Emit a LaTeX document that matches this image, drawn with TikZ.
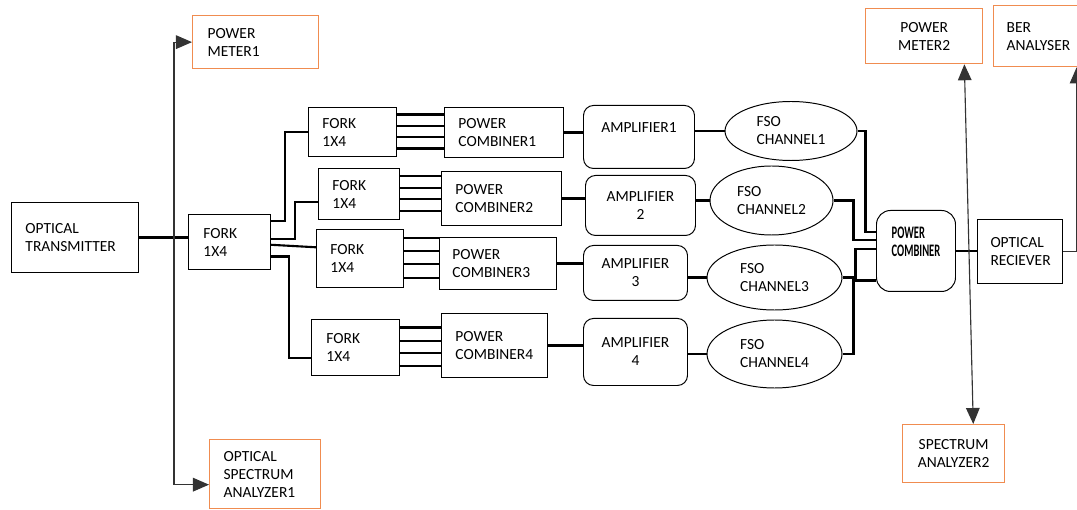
\documentclass[tikz,border=0pt]{standalone}
\usepackage{fontspec}
\setmainfont{Carlito}
\newfontfamily\condfont[FakeStretch=0.6]{Carlito}
\usepackage{tikz}
\usetikzlibrary{shapes.geometric, calc, arrows.meta}
\definecolor{meterorange}{RGB}{240,140,80}
\newlength\pxu
\setlength\pxu{0.025cm}

\begin{document}
\begin{tikzpicture}[
    x=0.025cm, y=-0.025cm,
    font=\fontsize{11}{12.8}\selectfont,
    blk/.style n args={3}{
        draw,
        line width=0.7pt,
        anchor=north west,
        align=left,
        inner ysep=0pt,
        text width=#1\pxu,
        minimum height=#2\pxu,
        inner xsep=#3\pxu
    },
    ctr/.style 2 args={
        draw,
        line width=0.7pt,
        anchor=north west,
        align=center,
        inner sep=0pt,
        minimum width=#1\pxu,
        minimum height=#2\pxu
    },
    rnd/.style={rounded corners=10\pxu},
    meter/.style={draw=meterorange, line width=0.9pt},
    fso/.style 2 args={
        draw,
        ellipse,
        line width=0.7pt,
        align=left,
        inner sep=0pt,
        minimum width=#1\pxu,
        minimum height=#2\pxu
    },
    sig/.style={line width=1.5pt},
    probe/.style={line width=0.8pt, black!80,
        >={Triangle[length=4mm,width=3.4mm]}}
]

\useasboundingbox (0,0) rectangle (1077,510);

% SOURCE
\node[blk={99}{70}{14}] (tx) at (11,202)
{OPTICAL\\TRANSMITTER};

\node[blk={52}{55}{15}] (fork0) at (188,214)
{FORK\\1X4};

\draw[sig] (tx.east) -- (tx.east -| fork0.west);

% MEASUREMENT AT THE SOURCE
\node[blk={96}{53}{15}, meter] (pm1) at (192,15)
{POWER\\METER1};

\node[blk={83}{69}{14}, meter] (osa1) at (209,439)
{OPTICAL\\SPECTRUM\\ANALYZER1};

\coordinate (tap) at (174,237);
\draw[probe, <->] (pm1.west) -| (tap) |- ($(osa1.north west)!0.65!(osa1.south west)$);

% FOUR FORKS
\node[blk={60}{49}{14}] (fork1) at (308,107) {FORK\\1X4};
\node[blk={53}{51}{14}] (fork2) at (318,168) {FORK\\1X4};
\node[blk={59}{58}{14}] (fork3) at (316,229) {FORK\\1X4};
\node[blk={58}{56}{15}] (fork4) at (311,319) {FORK\\1X4};

\draw[sig] ($(fork0.north east)!0.13!(fork0.south east)$) -- ++(14,0) |- (fork1.west);
\draw[sig] ($(fork0.north east)!0.44!(fork0.south east)$) -- ++(24,0) |- ($(fork2.north west)!0.66!(fork2.south west)$);
\draw[sig] ($(fork0.north east)!0.55!(fork0.south east)$) -- ($(fork3.north west)!0.31!(fork3.south west)$);
\draw[sig] ($(fork0.north east)!0.76!(fork0.south east)$) -- ++(18,0) |- ($(fork4.north west)!0.69!(fork4.south west)$);

% POWER COMBINERS
\node[blk={91}{50}{14}] (pc1) at (444,107) {POWER\\COMBINER1};
\node[blk={92}{54}{14}] (pc2) at (441,171) {POWER\\COMBINER2};
\node[blk={91}{52}{13}] (pc3) at (439,237) {POWER\\COMBINER3};
\node[blk={78}{64}{14}] (pc4) at (441,313) {POWER\\COMBINER4};

\foreach \i in {1,...,4}
  \foreach \f in {0.15,0.38,0.6,0.83}
    \draw[sig] ($(fork\i.north east)!\f!(fork\i.south east)$) coordinate (port) -- (port -| pc\i.west);

% AMPLIFIERS
\node[ctr={111}{63}, rnd] (amp1) at (583,105) {AMPLIFIER1\\\mbox{}};
\node[ctr={110}{60}, rnd] (amp2) at (585,175) {AMPLIFIER\\2};
\node[ctr={104}{55}, rnd] (amp3) at (583,245) {AMPLIFIER\\3};
\node[ctr={104}{67}, rnd] (amp4) at (583,318) {AMPLIFIER\\4};

% FSO CHANNELS
\node[fso={132}{59}] (fso1) at (791,131) {FSO\\CHANNEL1};
\node[fso={123}{69}] (fso2) at (771.5,200.5) {FSO\\CHANNEL2};
\node[fso={135}{65}] (fso3) at (774.5,277.5) {FSO\\CHANNEL3};
\node[fso={135}{68}] (fso4) at (774.5,354) {FSO\\CHANNEL4};

\foreach \i in {1,...,4} {
  \draw[sig] (pc\i.east) -- (pc\i.east -| amp\i.west);
  \draw[sig] (fso\i.west -| amp\i.east) -- (fso\i.west);
}

% RECEIVER SIDE
\node[ctr={79}{81}, rounded corners=14\pxu, align=left,
      font=\condfont\bfseries\fontsize{12.5}{12.8}\selectfont] (comb) at (876,210)
{POWER\\COMBINER\\\mbox{}};

\node[blk={59}{64}{13}] (or) at (977,219)
{OPTICAL\\RECIEVER};

\draw[sig] (fso1.east) -- ++(8,0) |- ($(comb.north west)!0.27!(comb.south west)$);
\draw[sig] (fso2.east) -- ++(20,0) |- ($(comb.north west)!0.37!(comb.south west)$);
\draw[sig] (fso3.east) -- ++(13,0) |- ($(comb.north west)!0.48!(comb.south west)$);
\draw[sig] (fso4.east) -- ++(11,0) |- ($(comb.north west)!0.86!(comb.south west)$);
\draw[sig] (comb.east) -- (comb.east -| or.west);

% MEASUREMENT AT THE RECEIVER
\node[ctr={117}{55}, meter] (pm2) at (865,8)
{POWER\\METER2};

\node[blk={140}{61}{13}, meter] (ber) at (993,5)
{BER\\ANALYSER};

\node[ctr={102}{58}, meter] (sa2) at (902,424)
{SPECTRUM\\ANALYZER2};

\draw[probe, <->] ($(pm2.south west)!0.84!(pm2.south east)$) -- ($(sa2.north west)!0.69!(sa2.north east)$);
\draw[probe, ->] (or.east) -| (ber.south);

\end{tikzpicture}
\end{document}
